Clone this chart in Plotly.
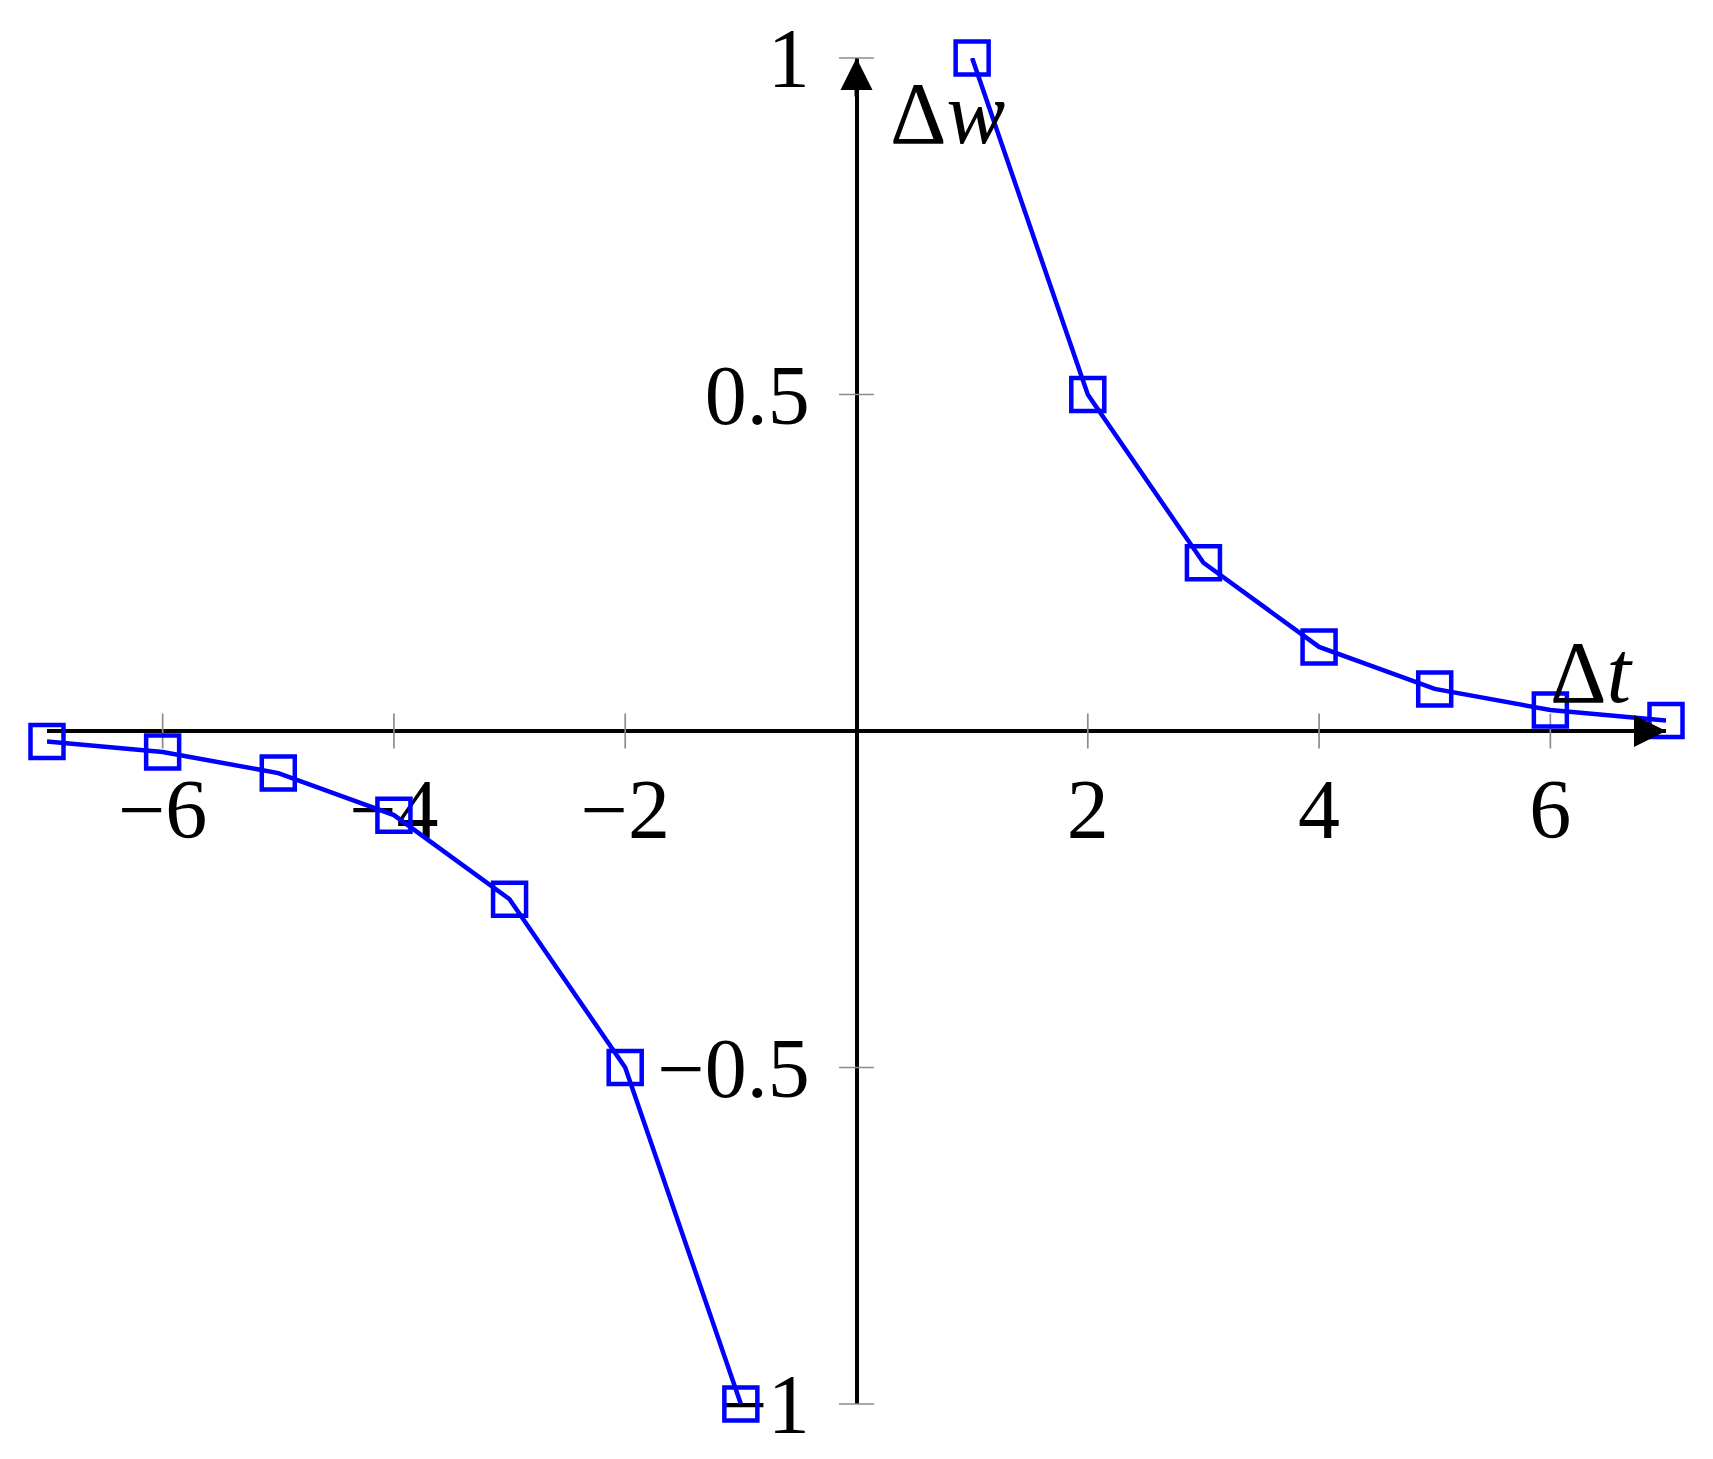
import plotly.graph_objects as go

# Data
dt_pos = [1, 2, 3, 4, 5, 6, 7]
dw_pos = [1.0, 0.5, 0.25, 0.125, 0.0625, 0.03125, 0.0156]
dt_neg = [-7, -6, -5, -4, -3, -2, -1]
dw_neg = [-0.0156, -0.03125, -0.0625, -0.125, -0.25, -0.5, -1.0]

x_tickvals = [-6, -4, -2, 2, 4, 6]
x_ticktext = ["\u22126", "\u22124", "\u22122", "2", "4", "6"]
y_tickvals = [-1, -0.5, 0.5, 1]
y_ticktext = ["\u22121", "\u22120.5", "0.5", "1"]

FONT = "Liberation Serif"
BLUE = "#0000FF"
TICK_GRAY = "#8c8c8c"
FS = 84
LW = 4
BLW = 4.5

fig = go.Figure()

# tick marks centred on the axes
fig.add_trace(go.Scatter(
    x=x_tickvals, y=[0] * len(x_tickvals), mode="markers",
    marker=dict(symbol="line-ns", size=25, line=dict(color=TICK_GRAY, width=1.7)),
    hoverinfo="skip", showlegend=False, cliponaxis=False))
fig.add_trace(go.Scatter(
    x=[0] * len(y_tickvals), y=y_tickvals, mode="markers",
    marker=dict(symbol="line-ew", size=25, line=dict(color=TICK_GRAY, width=1.7)),
    hoverinfo="skip", showlegend=False, cliponaxis=False))

marker_style = dict(symbol="square-open", size=33, color=BLUE, line=dict(color=BLUE, width=BLW))
fig.add_trace(go.Scatter(x=dt_neg, y=dw_neg, mode="lines+markers",
                         line=dict(color=BLUE, width=BLW), marker=marker_style,
                         showlegend=False, cliponaxis=False))
fig.add_trace(go.Scatter(x=dt_pos, y=dw_pos, mode="lines+markers",
                         line=dict(color=BLUE, width=BLW), marker=marker_style,
                         showlegend=False, cliponaxis=False))

fig.update_layout(
    width=1713, height=1459,
    margin=dict(l=39, r=55, t=50, b=63, autoexpand=False),
    paper_bgcolor="white", plot_bgcolor="white",
    font=dict(family=FONT, size=FS, color="black"),
    xaxis=dict(range=[-7, 7], anchor="free", position=0.5, automargin=False,
               showgrid=False, zeroline=False, showline=True,
               linecolor="black", linewidth=LW, layer="below traces",
               tickvals=x_tickvals, ticktext=x_ticktext, ticks="",
               ticklabelstandoff=4,
               tickfont=dict(family=FONT, size=FS, color="black")),
    yaxis=dict(range=[-1, 1], anchor="free", position=0.5, automargin=False,
               showgrid=False, zeroline=False, showline=True,
               linecolor="black", linewidth=LW, layer="below traces",
               tickvals=y_tickvals, ticktext=y_ticktext, ticks="",
               ticklabelstandoff=28,
               tickfont=dict(family=FONT, size=FS, color="black")),
    annotations=[
        dict(x=0, y=1, xref="x", yref="y", ax=0, ay=40, text="", showarrow=True,
             arrowhead=2, arrowsize=1.6, arrowwidth=LW, arrowcolor="black", standoff=0),
        dict(x=7, y=0, xref="x", yref="y", ax=-40, ay=0, text="", showarrow=True,
             arrowhead=2, arrowsize=1.6, arrowwidth=LW, arrowcolor="black", standoff=0),
        dict(x=0.27, y=0.842, xref="x", yref="y", text="\u0394<i>w</i>", showarrow=False,
             xanchor="left", yanchor="bottom", font=dict(family=FONT, size=88, color="black")),
        dict(x=5.98, y=0.012, xref="x", yref="y", text="\u0394<i>t</i>", showarrow=False,
             xanchor="left", yanchor="bottom", font=dict(family=FONT, size=88, color="black")),
    ],
)

fig.write_html("out.html")
